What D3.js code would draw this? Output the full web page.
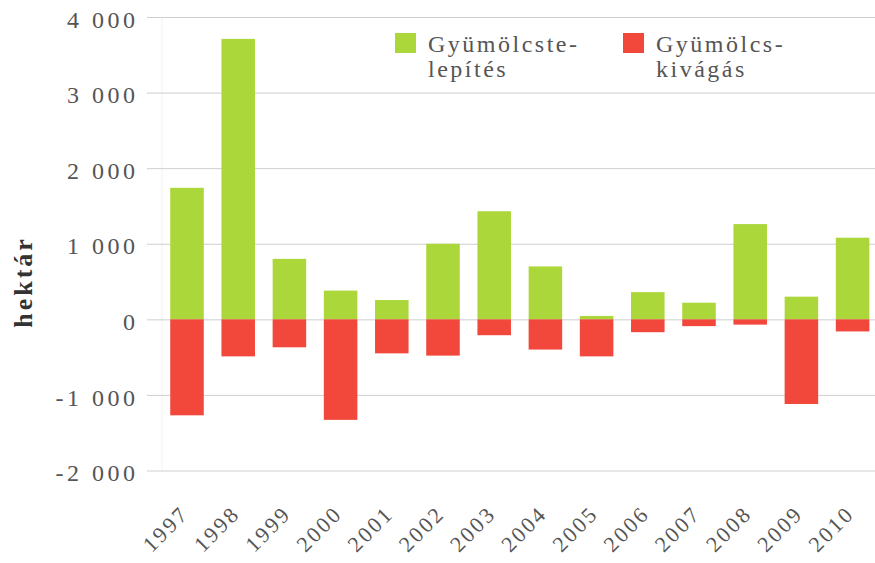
<!DOCTYPE html>
<html>
<head>
<meta charset="utf-8">
<script src="https://cdn.jsdelivr.net/npm/d3@7"></script>
<style>
  body { margin: 0; background: #fff; }
  svg { display: block; }
  svg text { font-family: "Liberation Serif", "Times New Roman", Times, "DejaVu Serif", serif; }
</style>
</head>
<body>
<script>
const years = ["1997", "1998", "1999", "2000", "2001", "2002", "2003", "2004", "2005", "2006", "2007", "2008", "2009", "2010"];
// Gyümölcstelepítés (hektár)
const planting = [1740, 3710, 800, 380, 255, 1000, 1430, 700, 45, 360, 220, 1260, 300, 1080];
// Gyümölcskivágás (hektár)
const felling = [-1270, -490, -370, -1330, -450, -480, -210, -400, -490, -170, -90, -70, -1120, -160];
const yTicks = [-2000, -1000, 0, 1000, 2000, 3000, 4000];
const legendLabels = [["Gyümölcste-", "lepítés"], ["Gyümölcs-", "kivágás"]];
const yLabel = "hektár";

const width = 875, height = 563;
const colors = ["#abd73a", "#f1483b"];

const svg = d3.select("body").append("svg")
    .attr("width", width)
    .attr("height", height)
    .attr("viewBox", `0 0 ${width} ${height}`);

svg.append("rect").attr("width", width).attr("height", height).attr("fill", "#fff");

const x = d3.scaleBand(years, [161.4, 878.2]).paddingInner(0.345).paddingOuter(0.1725);
const y = d3.scaleLinear([-2000, 4000], [470.5, 17]);

const huLocale = d3.formatLocale({ decimal: ",", thousands: " ", grouping: [3], currency: ["", ""], minus: "-" });
const fmt = huLocale.format(",");

// faint left border of the plot area
svg.append("line")
    .attr("x1", 162).attr("x2", 162)
    .attr("y1", y(4000)).attr("y2", y(-2000))
    .attr("stroke", "#f1f1f1");

// y axis with gridlines
const yAxis = d3.axisLeft(y).tickValues(yTicks).tickFormat(fmt).tickSize(-(width - 147)).tickPadding(12);
svg.append("g")
    .attr("transform", "translate(147,0)")
    .call(yAxis)
    .attr("font-family", null)
    .call(g => g.select(".domain").remove())
    .call(g => g.selectAll(".tick line").attr("stroke", "#cfcfcf"))
    .call(g => g.selectAll(".tick text")
        .attr("x", -8.5)
        .attr("dy", "0.42em")
        .attr("fill", "#555")
        .style("font-size", "24px")
        .attr("letter-spacing", 3.5));

// bars
const series = [planting, felling];
series.forEach((values, s) => {
    svg.append("g")
        .selectAll("rect")
        .data(values)
        .join("rect")
        .attr("x", (d, i) => x(years[i]))
        .attr("width", x.bandwidth())
        .attr("y", d => y(Math.max(0, d)))
        .attr("height", d => Math.abs(y(d) - y(0)))
        .attr("fill", colors[s]);
});

// x labels, rotated
svg.append("g")
    .selectAll("text")
    .data(years)
    .join("text")
    .attr("transform", d => `translate(${x(d) + x.bandwidth() / 2 + 3},515) rotate(-45)`)
    .attr("text-anchor", "end")
    .attr("fill", "#555")
    .style("font-size", "22px")
    .attr("letter-spacing", 2.5)
    .text(d => d);

// y title
svg.append("text")
    .attr("transform", "translate(32,282) rotate(-90)")
    .attr("text-anchor", "middle")
    .attr("fill", "#333")
    .style("font-weight", "bold")
    .style("font-size", "26px")
    .attr("letter-spacing", 3)
    .text(yLabel);

// legend
const legendX = [395, 623];
const legend = svg.append("g")
    .selectAll("g")
    .data(legendLabels)
    .join("g")
    .attr("transform", (d, i) => `translate(${legendX[i]},33)`);

legend.append("rect")
    .attr("width", 21)
    .attr("height", 20)
    .attr("fill", (d, i) => colors[i]);

legend.append("text")
    .attr("x", 33)
    .attr("fill", "#555")
    .style("font-size", "24px")
    .attr("letter-spacing", 2.5)
    .selectAll("tspan")
    .data(d => d)
    .join("tspan")
    .attr("x", 33)
    .attr("y", (d, j) => 19 + j * 25)
    .text(d => d);
</script>
</body>
</html>
